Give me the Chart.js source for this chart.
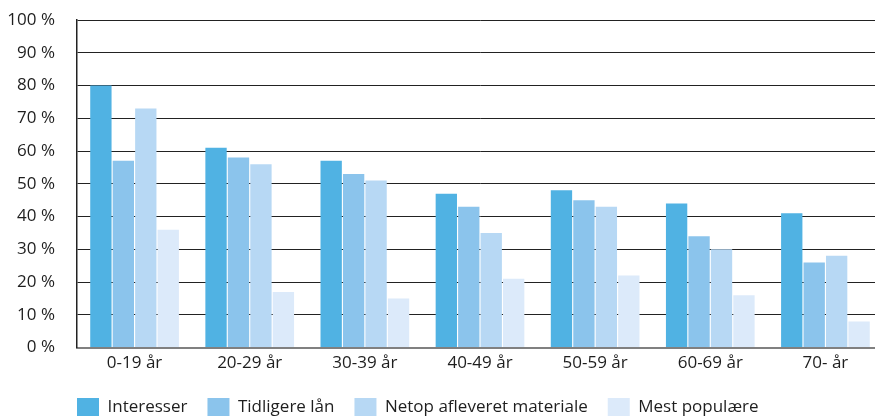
<!DOCTYPE html>
<html>
<head>
<meta charset="utf-8">
<script src="https://cdn.jsdelivr.net/npm/chart.js@4.4.1/dist/chart.umd.min.js"></script>
<style>
  html, body { margin: 0; padding: 0; background: #fff; overflow: hidden; }
  #wrap { width: 883px; height: 416px; }
</style>
</head>
<body>
<div id="wrap"><canvas id="chart"></canvas></div>
<script>
const ageGroups = ["0-19 år", "20-29 år", "30-39 år", "40-49 år", "50-59 år", "60-69 år", "70- år"];
const interesser = [80, 61, 57, 47, 48, 44, 41];
const tidligereLaan = [57, 58, 53, 43, 45, 34, 26];
const netopAfleveret = [73, 56, 51, 35, 43, 30, 28];
const mestPopulaere = [36, 17, 15, 21, 22, 16, 8];

const fontFamily = "'Open Sans', sans-serif";
const textColor = "#1e1e1e";
const legendPad = 20;

function makeSet(label, data, color) {
    return {
        label: label,
        data: data,
        backgroundColor: color,
        borderWidth: 0,
        categoryPercentage: 0.78,
        barPercentage: 0.95,
    };
}

// move the legend so it starts under the y axis, like the original
const legendShift = {
    id: "legendShift",
    afterLayout(chart) {
        chart.legend.left = chart.chartArea.left - legendPad;
    }
};

new Chart(document.getElementById("chart"), {
    type: "bar",
    data: {
        labels: ageGroups,
        datasets: [
            makeSet("Interesser", interesser, "#50b2e3"),
            makeSet("Tidligere lån", tidligereLaan, "#8bc4ec"),
            makeSet("Netop afleveret materiale", netopAfleveret, "#b7d8f4"),
            makeSet("Mest populære", mestPopulaere, "#dceafa"),
        ],
    },
    plugins: [legendShift],
    options: {
        responsive: true,
        maintainAspectRatio: false,
        animation: false,
        layout: {
            padding: { top: 20, left: 6, right: 0, bottom: -11 }
        },
        plugins: {
            tooltip: { enabled: false },
            legend: {
                position: "bottom",
                align: "start",
                labels: {
                    color: textColor,
                    font: { family: fontFamily, size: 17 },
                    boxWidth: 22,
                    boxHeight: 19,
                    padding: legendPad,
                }
            }
        },
        scales: {
            x: {
                grid: { display: false, drawTicks: false },
                border: { color: "#808080", width: 2 },
                ticks: {
                    color: textColor,
                    font: { family: fontFamily, size: 17 },
                    padding: 5,
                }
            },
            y: {
                min: 0,
                max: 100,
                afterFit: (scale) => { scale.width = 71; },
                grid: {
                    color: "#222",
                    lineWidth: 1,
                    drawTicks: true,
                    tickLength: 22,
                    tickColor: "rgba(0,0,0,0)",
                },
                border: { color: "#222", width: 1.5 },
                ticks: {
                    stepSize: 10,
                    color: textColor,
                    font: { family: fontFamily, size: 17 },
                    padding: 0,
                    callback: (v) => v + " %",
                }
            }
        }
    }
});
</script>
</body>
</html>
